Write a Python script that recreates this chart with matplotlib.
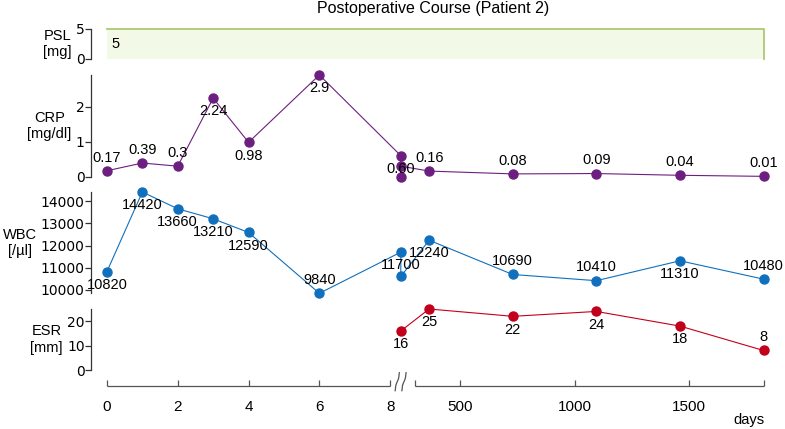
"""Postoperative course of patient 2: PSL dose, CRP, WBC and ESR over time."""
import matplotlib

matplotlib.use("Agg")
import matplotlib.pyplot as plt
import numpy as np

# days after the operation; 8.3 is the discharge check (several draws)
PSL_DAYS = [0, 1825]
PSL_DOSE = [5, 5]

CRP_DAYS = [0, 1, 2, 3, 4, 6, 8.3, 8.3, 8.3, 365, 730, 1095, 1460, 1825]
CRP_VALUES = [0.17, 0.39, 0.3, 2.24, 0.98, 2.9, 0.6, 0.0, 0.3,
              0.16, 0.08, 0.09, 0.04, 0.01]
CRP_LABELS = ["0.17", "0.39", "0.3", "2.24", "0.98", "2.9", "0.60", "", "",
              "0.16", "0.08", "0.09", "0.04", "0.01"]

WBC_DAYS = [0, 1, 2, 3, 4, 6, 8.3, 8.3, 365, 730, 1095, 1460, 1825]
WBC_VALUES = [10820, 14420, 13660, 13210, 12590, 9840, 11700, 10600,
              12240, 10690, 10410, 11310, 10480]
WBC_LABELS = ["10820", "14420", "13660", "13210", "12590", "9840", "11700", "",
              "12240", "10690", "10410", "11310", "10480"]

ESR_DAYS = [8.3, 365, 730, 1095, 1460, 1825]
ESR_VALUES = [16, 25, 22, 24, 18, 8]
ESR_LABELS = ["16", "25", "22", "24", "18", "8"]

XTICKS = [0, 2, 4, 6, 8, 303, 500, 1000, 1500, 1825]
XTICK_LABELS = ["0", "2", "4", "6", "8", "", "500", "1000", "1500", ""]

# +1 puts the value label above the point, -1 below
CRP_SIDE = [1, 1, 1, -1, -1, -1, -1, 0, 0, 1, 1, 1, 1, 1]
WBC_SIDE = [-1, -1, -1, -1, -1, 1, -1, 0, -1, 1, 1, -1, 1]
ESR_SIDE = [-1, -1, -1, -1, -1, 1]

# broken time axis: first week on a daily scale, then years
DAY_BREAKS = [-1, 8.6, 303, 2000]
AXIS_POS = [-1, 8.6, 8.7, 8.7 + 1697 * 0.229 / 35.4]

W, H = 785, 429
LEFT, RIGHT = 91, 775
SPINE = "#333333"

plt.rcParams["font.family"] = ["Liberation Sans", "DejaVu Sans"]


def forward(x):
    return np.interp(x, DAY_BREAKS, AXIS_POS)


def inverse(u):
    return np.interp(u, AXIS_POS, DAY_BREAKS)


def box(top, bottom):
    return [LEFT / W, 1 - bottom / H, (RIGHT - LEFT) / W, (bottom - top) / H]


def style_panel(ax, label, ylim, yticks):
    ax.set_ylim(*ylim)
    ax.set_yticks(yticks)
    for side in ("top", "right", "bottom"):
        ax.spines[side].set_visible(False)
    ax.spines["left"].set_color(SPINE)
    ax.spines["left"].set_linewidth(0.9)
    ax.tick_params(axis="x", bottom=False, labelbottom=False)
    ax.tick_params(axis="y", length=4, width=0.9, color=SPINE, pad=0.5,
                   labelsize=10, labelfontfamily="DejaVu Sans")
    ax.set_ylabel(label, rotation=0, ha="right", va="center",
                  multialignment="center", fontsize=10.5, labelpad=3)


def draw_series(ax, days, values, labels, sides, color):
    ax.plot(days, values, color=color, lw=0.8, marker="o", markersize=6.5,
            clip_on=False, zorder=3)
    for day, value, text, side in zip(days, values, labels, sides):
        if not text:
            continue
        ax.annotate(text, (day, value), xytext=(0, 9.5 * side),
                    textcoords="offset points", ha="center", va="center",
                    fontsize=10.5, zorder=4)


def main():
    fig = plt.figure(figsize=(W / 100, H / 100), dpi=100)

    ax_psl = fig.add_axes(box(29, 59))
    ax_psl.set_xscale("function", functions=(forward, inverse))
    ax_psl.set_xlim(-0.45, 1875)
    ax_crp = fig.add_axes(box(75, 176.7), sharex=ax_psl)
    ax_wbc = fig.add_axes(box(192, 293.3), sharex=ax_psl)
    ax_esr = fig.add_axes(box(309, 370), sharex=ax_psl)
    ax_x = fig.add_axes(box(371.7, 385.7), sharex=ax_psl)

    # PSL dose band
    ax_psl.fill_between(PSL_DAYS, 0, PSL_DOSE, color="#f2f9e6", lw=0)
    ax_psl.plot(PSL_DAYS + [PSL_DAYS[-1]], PSL_DOSE + [0], color="#adc872",
                lw=1.3, clip_on=False)
    ax_psl.annotate(str(PSL_DOSE[0]), (PSL_DAYS[0], PSL_DOSE[0] / 2),
                    xytext=(3.5, 0), textcoords="offset points",
                    ha="left", va="center", fontsize=10.5)
    style_panel(ax_psl, "PSL\n[mg]", (0, 5), [0, 5])

    draw_series(ax_crp, CRP_DAYS, CRP_VALUES, CRP_LABELS, CRP_SIDE, "#6d1f80")
    style_panel(ax_crp, "CRP\n[mg/dl]", (0, 2.9), [0, 1, 2])

    draw_series(ax_wbc, WBC_DAYS, WBC_VALUES, WBC_LABELS, WBC_SIDE, "#1070bd")
    style_panel(ax_wbc, "WBC\n[/µl]", (9840, 14420),
                [10000, 11000, 12000, 13000, 14000])

    draw_series(ax_esr, ESR_DAYS, ESR_VALUES, ESR_LABELS, ESR_SIDE, "#c3001c")
    style_panel(ax_esr, "ESR\n[mm]", (0, 25), [0, 10, 20])

    # time axis with a break between the first week and the yearly checks
    ax_x.set_ylim(0, 14)
    for spine in ax_x.spines.values():
        spine.set_visible(False)
    ax_x.set_yticks([])
    for start, end in [(0, 8), (303, 1825)]:
        ax_x.plot([start, end], [0, 0], color="#555555", lw=0.9,
                  clip_on=False, solid_capstyle="butt")
    ax_x.set_xticks(XTICKS)
    ax_x.set_xticklabels(XTICK_LABELS)
    ax_x.xaxis.set_minor_locator(matplotlib.ticker.NullLocator())
    ax_x.tick_params(axis="x", direction="in", length=4, width=0.9,
                     color="#555555", pad=10, labelsize=11)

    t = np.linspace(0, 1, 40)
    for center in (8.2, 8.39):
        ax_x.plot(center - 0.06 * np.sin(2 * np.pi * t) * 0.6
                  + 0.06 * (2 * t - 1) ** 3, -5 + 18 * t,
                  color="#555555", lw=0.9, clip_on=False)

    fig.text(433 / W, 1 - 8.5 / H, "Postoperative Course (Patient 2)",
             ha="center", va="center", fontsize=11.5)
    fig.text(764 / W, 1 - 420 / H, "days", ha="right", va="center",
             fontsize=10.5)

    fig.savefig("out.png", dpi=100)
    plt.close(fig)


if __name__ == "__main__":
    main()
